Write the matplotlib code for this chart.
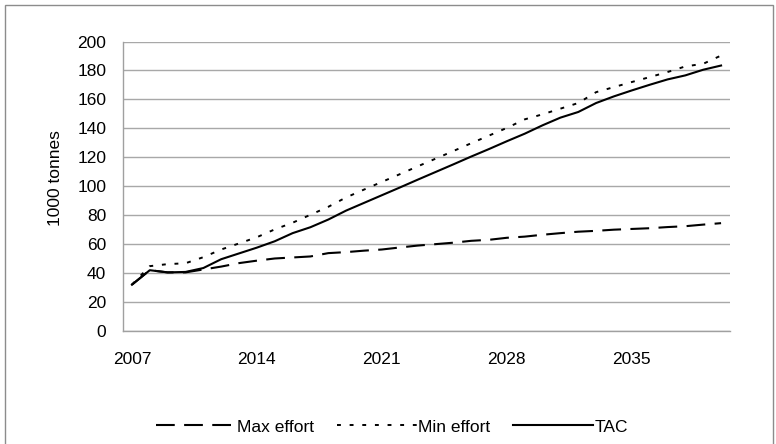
import numpy as np
import matplotlib
matplotlib.use("Agg")
import matplotlib.pyplot as plt
from matplotlib.patches import Rectangle

plt.rcParams['font.family'] = ['Liberation Sans', 'DejaVu Sans']

years = list(range(2007, 2041))
max_effort = [32, 42, 40.5, 40.5, 42.5, 44.5, 46.9, 48.6, 50.1, 50.8,
              51.5, 53.8, 54.5, 55.5, 56.3, 57.7, 59, 60, 61, 62.3,
              63, 64.4, 65.2, 66.5, 67.6, 68.6, 69.2, 70, 70.5, 71,
              71.8, 72.4, 73.5, 74.5]
min_effort = [32, 44.8, 46.2, 46.8, 51, 56.3, 60.5, 64.8, 70.2, 74.8,
              80.3, 85.8, 92.3, 97.7, 103, 108.3, 113.7, 119, 124.3, 129.7,
              135, 140.3, 146.2, 149.7, 153.6, 157.5, 165, 168.5, 172, 175.4,
              178.9, 182.8, 184.6, 190.3]
tac = [32, 42, 40.5, 40.8, 43.5, 49.6, 53.6, 57.6, 62, 67.6,
       71.7, 77, 83.2, 88.5, 93.8, 99.1, 104.5, 109.8, 115.1, 120.5,
       125.7, 131.1, 136.3, 142.1, 147.4, 151.3, 157.5, 162.1, 166.2, 170.1,
       173.8, 176.6, 180.5, 183.4]
yticks = [0, 20, 40, 60, 80, 100, 120, 140, 160, 180, 200]

W, H = 776, 444
fig = plt.figure(figsize=(W / 100, H / 100), dpi=100)
ax = fig.add_axes([123 / W, 1 - 331 / H, (730 - 123) / W, (331 - 41.5) / H])

x = np.arange(len(years))
ax.plot(x, max_effort, color='black', lw=1.5, dashes=(9, 4.5), label='Max effort')
ax.plot(x, min_effort, color='black', lw=1.4, dashes=(2, 4.5), label='Min effort')
ax.plot(x, tac, color='black', lw=1.5, label='TAC')

ax.set_xlim(-0.5, len(years) - 0.5)
ax.set_ylim(0, 200)
ax.set_yticks(yticks)
ax.set_xticks(x[::7])
ax.set_xticklabels([str(y) for y in years[::7]])
ax.tick_params(axis='both', length=0, labelsize=12.5)
ax.tick_params(axis='y', pad=12)
ax.tick_params(axis='x', pad=15)

ax.grid(axis='y', color='#a8a8a8', lw=1)
ax.set_axisbelow(True)
for s in ['top', 'right']:
    ax.spines[s].set_visible(False)
for s in ['left', 'bottom']:
    ax.spines[s].set_color('#a0a0a0')
    ax.spines[s].set_linewidth(1)

fig.text(55 / W, 1 - 178 / H, '1000 tonnes', rotation=90,
         ha='center', va='center', fontsize=12.5)

fig.legend(loc='center', bbox_to_anchor=(392 / W, 1 - 427 / H), ncol=3,
           frameon=False, fontsize=12.5, handlelength=4.6, handletextpad=0.1,
           columnspacing=1.3)

# outer chart border
fig.patches.append(Rectangle((5 / W, -0.1), (773 - 5) / W, 1.1 - 5 / H,
                             transform=fig.transFigure, fill=False,
                             edgecolor='#8c8c8c', lw=1))

fig.savefig('out.png', dpi=100)
